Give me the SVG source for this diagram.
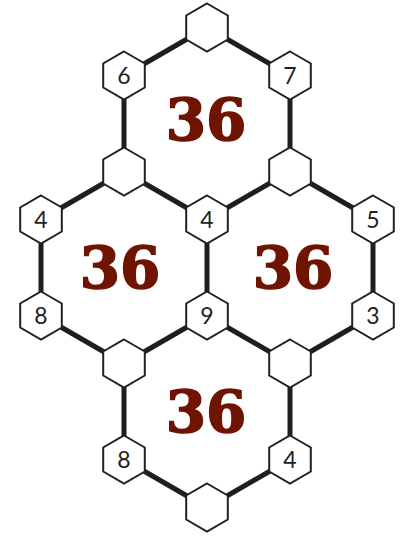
<svg xmlns="http://www.w3.org/2000/svg" xmlns:xlink="http://www.w3.org/1999/xlink" width="403" height="538" viewBox="0 0 403 538">
<style>
.hx{fill:#fff;stroke:#222;stroke-width:2;stroke-linejoin:miter}
.d{font-family:Lato,"Open Sans","DejaVu Sans",sans-serif;font-size:23px;fill:#222;text-anchor:middle}
.s{font-family:"DejaVu Serif","Liberation Serif",serif;font-weight:bold;font-size:58px;fill:#6e1400;stroke:#6e1400;stroke-width:1.6;text-anchor:middle}
.e line{stroke:#1e1e1e;stroke-width:5}
</style>
<defs>
<polygon id="hex" class="hx" points="0,-24 20.8,-12 20.8,12 0,24 -20.8,12 -20.8,-12"/>
</defs>
<rect width="403" height="538" fill="#fff"/>
<g id="connectors" class="e">
<line x1="207" y1="27.5" x2="124" y2="75.5"/>
<line x1="207" y1="27.5" x2="290" y2="75.5"/>
<line x1="124" y1="75.5" x2="124" y2="171.5"/>
<line x1="290" y1="75.5" x2="290" y2="171.5"/>
<line x1="124" y1="171.5" x2="207" y2="219.5"/>
<line x1="290" y1="171.5" x2="207" y2="219.5"/>
<line x1="124" y1="171.5" x2="41" y2="219.5"/>
<line x1="41" y1="219.5" x2="41" y2="315.5"/>
<line x1="41" y1="315.5" x2="124" y2="363.5"/>
<line x1="124" y1="363.5" x2="207" y2="315.5"/>
<line x1="207" y1="315.5" x2="207" y2="219.5"/>
<line x1="290" y1="171.5" x2="373" y2="219.5"/>
<line x1="373" y1="219.5" x2="373" y2="315.5"/>
<line x1="373" y1="315.5" x2="290" y2="363.5"/>
<line x1="290" y1="363.5" x2="207" y2="315.5"/>
<line x1="124" y1="363.5" x2="124" y2="459.5"/>
<line x1="290" y1="363.5" x2="290" y2="459.5"/>
<line x1="124" y1="459.5" x2="207" y2="507.5"/>
<line x1="290" y1="459.5" x2="207" y2="507.5"/>
</g>
<g id="sum-top"><text class="s" x="206" y="140">36</text></g>
<g id="sum-left"><text class="s" x="120" y="288">36</text></g>
<g id="sum-right"><text class="s" x="293" y="288">36</text></g>
<g id="sum-bottom"><text class="s" x="206" y="432">36</text></g>
<g id="n-top"><use xlink:href="#hex" x="207" y="27.5"/></g>
<g id="n-6"><use xlink:href="#hex" x="124" y="75.5"/><text class="d" x="124" y="83.5">6</text></g>
<g id="n-7"><use xlink:href="#hex" x="290" y="75.5"/><text class="d" x="290" y="83.5">7</text></g>
<g id="n-a"><use xlink:href="#hex" x="124" y="171.5"/></g>
<g id="n-b"><use xlink:href="#hex" x="290" y="171.5"/></g>
<g id="n-4l"><use xlink:href="#hex" x="41" y="219.5"/><text class="d" x="41" y="227.5">4</text></g>
<g id="n-4c"><use xlink:href="#hex" x="207" y="219.5"/><text class="d" x="207" y="227.5">4</text></g>
<g id="n-5"><use xlink:href="#hex" x="373" y="219.5"/><text class="d" x="373" y="227.5">5</text></g>
<g id="n-8l"><use xlink:href="#hex" x="41" y="315.5"/><text class="d" x="41" y="323.5">8</text></g>
<g id="n-9"><use xlink:href="#hex" x="207" y="315.5"/><text class="d" x="207" y="323.5">9</text></g>
<g id="n-3"><use xlink:href="#hex" x="373" y="315.5"/><text class="d" x="373" y="323.5">3</text></g>
<g id="n-d"><use xlink:href="#hex" x="124" y="363.5"/></g>
<g id="n-f"><use xlink:href="#hex" x="290" y="363.5"/></g>
<g id="n-8b"><use xlink:href="#hex" x="124" y="459.5"/><text class="d" x="124" y="467.5">8</text></g>
<g id="n-4b"><use xlink:href="#hex" x="290" y="459.5"/><text class="d" x="290" y="467.5">4</text></g>
<g id="n-bot"><use xlink:href="#hex" x="207" y="507.5"/></g>
</svg>
